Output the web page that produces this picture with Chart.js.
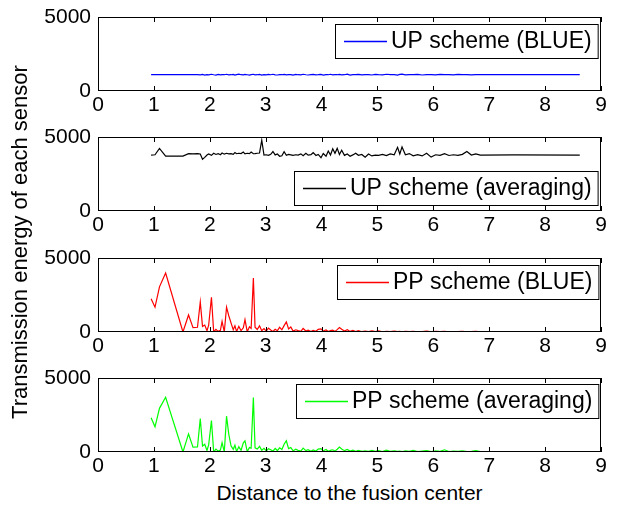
<!DOCTYPE html>
<html>
<head>
<meta charset="utf-8">
<script src="https://cdn.jsdelivr.net/npm/chart.js@4.4.1/dist/chart.umd.min.js"></script>
<style>
  html, body { margin: 0; padding: 0; background: #fff; }
  #wrap { position: relative; width: 630px; height: 506px; overflow: hidden; font-family: "Liberation Sans", Arial, sans-serif; color: #000; }
  .panel { position: absolute; left: 0; width: 630px; height: 110px; }
  #ytitle { position: absolute; left: -230px; top: 229px; width: 500px; height: 26px; line-height: 26px; text-align: center; font-size: 22px; transform: rotate(-90deg); }
  #xtitle { position: absolute; left: 98px; top: 480px; width: 503px; height: 26px; line-height: 26px; text-align: center; font-size: 21px; }
</style>
</head>
<body>
<div id="wrap">
  <div class="panel" style="top:7px"><canvas id="c1" width="630" height="110"></canvas></div>
  <div class="panel" style="top:127px"><canvas id="c2" width="630" height="110"></canvas></div>
  <div class="panel" style="top:248px"><canvas id="c3" width="630" height="110"></canvas></div>
  <div class="panel" style="top:368px"><canvas id="c4" width="630" height="110"></canvas></div>
  <div id="ytitle">Transmission energy of each sensor</div>
  <div id="xtitle">Distance to the fusion center</div>
</div>
<script>
// sensor distances to the fusion center
const distance = [
  0.95, 1.02, 1.10, 1.21, 1.52, 1.62, 1.70, 1.78, 1.83, 1.87,
  1.91, 1.95, 1.98, 2.03, 2.07, 2.11, 2.15, 2.19, 2.22, 2.26,
  2.30, 2.34, 2.38, 2.42, 2.45, 2.48, 2.52, 2.56, 2.60, 2.63,
  2.67, 2.71, 2.74, 2.78, 2.81, 2.85, 2.89, 2.93, 2.97, 3.01,
  3.05, 3.09, 3.13, 3.17, 3.21, 3.25, 3.29, 3.33, 3.37, 3.41,
  3.45, 3.49, 3.54, 3.58, 3.63, 3.67, 3.72, 3.76, 3.81, 3.85,
  3.90, 3.94, 3.99, 4.03, 4.08, 4.12, 4.16, 4.20, 4.24, 4.28,
  4.32, 4.36, 4.41, 4.46, 4.51, 4.56, 4.61, 4.66, 4.72, 4.78,
  4.84, 4.90, 4.96, 5.02, 5.09, 5.16, 5.23, 5.30, 5.36, 5.40,
  5.44, 5.50, 5.57, 5.64, 5.72, 5.80, 5.88, 5.96, 6.04, 6.12,
  6.20, 6.28, 6.36, 6.44, 6.52, 6.60, 6.68, 6.76, 6.84, 7.45,
  8.62
];

const upBlue = [
  1100, 1100, 1100, 1100, 1100, 1100, 1100, 1110, 1090, 1120,
  1080, 1110, 1090, 1130, 1100, 1080, 1120, 1090, 1110, 1100,
  1130, 1090, 1100, 1120, 1080, 1110, 1140, 1100, 1090, 1120,
  1100, 1080, 1110, 1130, 1090, 1100, 1120, 1080, 1110, 1090,
  1120, 1100, 1130, 1090, 1080, 1110, 1100, 1120, 1090, 1100,
  1110, 1080, 1120, 1100, 1090, 1130, 1100, 1080, 1110, 1120,
  1090, 1100, 1120, 1080, 1110, 1100, 1130, 1090, 1110, 1100,
  1120, 1090, 1100, 1140, 1080, 1110, 1100, 1120, 1090, 1100,
  1110, 1080, 1120, 1100, 1090, 1130, 1100, 1110, 1080, 1120,
  1140, 1090, 1110, 1100, 1120, 1080, 1100, 1110, 1090, 1120,
  1100, 1110, 1090, 1120, 1100, 1110, 1090, 1100, 1110, 1100,
  1100
];

const upAvg = [
  3780, 3800, 4230, 3710, 3710, 3870, 3860, 3870, 3850, 3500,
  3620, 3780, 3850, 3760, 3900, 3820, 3880, 3800, 3920, 3840,
  3900, 3860, 3880, 3830, 3950, 3870, 3900, 3880, 3980, 3860,
  3900, 3880, 3990, 3870, 3880, 3900, 3920, 4780, 3780, 3800,
  3760, 3830, 4020, 3790, 3850, 3700, 3730, 4010, 3760, 3820,
  3790, 3760, 3800, 3780, 3860, 3740, 3900, 3770, 3810, 3940,
  3750, 3820, 3600, 3880, 3700, 4050, 3780, 4200, 3900, 4230,
  3820, 4100, 3760, 3850, 3700, 3790, 3900, 3760, 3820, 3640,
  3850, 3720, 3780, 3760, 3820, 3740, 3860, 3800, 4300, 3850,
  4330, 3800, 3880, 3730, 3810, 3720, 3900, 3640, 3800, 3760,
  3870, 3750, 3800, 3760, 3830, 4020, 3780, 3860, 3780, 3790,
  3780
];

const ppBlue = [
  2240, 1680, 3050, 3980, 0, 1150, 290, 320, 2030, 380,
  470, 80, 460, 2350, 0, 180, 40, 110, 720, 0,
  1680, 1100, 620, 150, 420, 30, 380, 90, 280, 830,
  20, 350, 240, 3650, 320, 170, 420, 90, 230, 60,
  260, 130, 40, 180, 90, 320, 150, 430, 680, 200,
  340, 60, 150, 90, 40, 240, 70, 130, 30, 110,
  50, 180, 210, 60, 140, 30, 90, 120, 40, 160,
  300, 180, 70, 150, 40, 110, 30, 90, 20, 60,
  30, 80, 20, 70, 15, 50, 30, 60, 20, 40,
  10, 50, 20, 40, 10, 30, 60, 15, 40, 20,
  50, 10, 30, 20, 40, 10, 25, 50, 15, 10,
  10
];

const ppAvg = [
  2310, 1700, 2950, 3700, 0, 1220, 330, 340, 2260, 400,
  520, 100, 480, 2130, 0, 200, 60, 130, 630, 0,
  2420, 1200, 420, 180, 460, 40, 350, 120, 620, 760,
  30, 300, 260, 3680, 280, 200, 380, 110, 250, 80,
  220, 150, 60, 240, 100, 280, 170, 520, 760, 230,
  300, 80, 190, 110, 60, 260, 90, 150, 50, 140,
  70, 200, 230, 80, 170, 50, 110, 150, 60, 190,
  330, 200, 90, 170, 60, 130, 50, 110, 40, 80,
  50, 110, 40, 90, 30, 130, 50, 80, 40, 60,
  30, 70, 40, 110, 30, 60, 90, 30, 70, 40,
  150, 30, 60, 40, 80, 30, 50, 90, 30, 20,
  20
];

const xTicks = [0, 9];
const yTicks = [0, 5000];

const FAMILY = '"Liberation Sans", Arial, sans-serif';
const TICK_FONT = { family: FAMILY, size: 21 };
const LEGEND_SIZE = 23;

// box around the axes with inward ticks, matlab style
const frame = {
  id: 'frame',
  afterDatasetsDraw(chart) {
    const { ctx, chartArea: a, scales: { x } } = chart;
    ctx.save();
    ctx.strokeStyle = '#000';
    ctx.lineWidth = 1;
    ctx.strokeRect(a.left + 0.5, a.top + 0.5, a.width - 1, a.height - 1);
    ctx.beginPath();
    x.ticks.forEach(t => {
      const px = Math.round(x.getPixelForValue(t.value)) + 0.5;
      ctx.moveTo(px, a.bottom);
      ctx.lineTo(px, a.bottom - 5);
      ctx.moveTo(px, a.top);
      ctx.lineTo(px, a.top + 5);
    });
    ctx.stroke();
    ctx.restore();
  }
};

// legend box drawn inside the axes
const boxLegend = {
  id: 'boxLegend',
  afterDraw(chart, args, opts) {
    const { ctx, chartArea: a } = chart;
    const ds = chart.data.datasets[0];
    ctx.save();
    ctx.font = LEGEND_SIZE + 'px ' + FAMILY;
    const tw = ctx.measureText(ds.label).width;
    const w = 9 + 43 + 4 + tw + 6;
    const h = 34;
    const left = Math.round(a.right - 3 - w);
    const top = opts.bottom ? Math.round(a.bottom - opts.gap - h) : Math.round(a.top + opts.gap);
    ctx.fillStyle = '#fff';
    ctx.fillRect(left, top, w, h);
    ctx.strokeStyle = '#000';
    ctx.lineWidth = 1;
    ctx.strokeRect(left + 0.5, top + 0.5, w, h);
    const my = top + h / 2;
    ctx.strokeStyle = ds.borderColor;
    ctx.lineWidth = 1.3;
    ctx.beginPath();
    ctx.moveTo(left + 9, Math.round(my) + 0.5);
    ctx.lineTo(left + 52, Math.round(my) + 0.5);
    ctx.stroke();
    ctx.fillStyle = '#000';
    ctx.textBaseline = 'middle';
    ctx.fillText(ds.label, left + 56, my + 1);
    ctx.restore();
  }
};

function makePanel(id, label, values, color, legendOpts) {
  return new Chart(document.getElementById(id).getContext('2d'), {
    type: 'line',
    data: {
      datasets: [{
        label: label,
        data: distance.map((d, i) => ({ x: d, y: values[i] })),
        borderColor: color,
        borderWidth: 1.2,
        pointRadius: 0,
        tension: 0
      }]
    },
    options: {
      responsive: false,
      animation: false,
      layout: { padding: { top: 10, right: 29, left: 0, bottom: 0 } },
      plugins: {
        legend: { display: false },
        tooltip: { enabled: false },
        boxLegend: legendOpts
      },
      scales: {
        x: {
          type: 'linear',
          min: xTicks[0], max: xTicks[1],
          ticks: { stepSize: 1, color: '#000', font: TICK_FONT, padding: 2, maxRotation: 0 },
          grid: { display: false, drawTicks: false },
          border: { display: false },
          afterFit(s) { s.height = 26; s.paddingLeft = 0; s.paddingRight = 0; }
        },
        y: {
          min: yTicks[0], max: yTicks[1],
          ticks: { stepSize: yTicks[1], color: '#000', font: TICK_FONT, padding: 7, callback: v => String(v) },
          grid: { display: false, drawTicks: false },
          border: { display: false },
          afterFit(s) { s.width = 98; s.paddingTop = 0; s.paddingBottom = 0; }
        }
      }
    },
    plugins: [frame, boxLegend]
  });
}

makePanel('c1', 'UP scheme (BLUE)', upBlue, '#0000ff', { gap: 7 });
makePanel('c2', 'UP scheme (averaging)', upAvg, '#000000', { gap: 6, bottom: true });
makePanel('c3', 'PP scheme (BLUE)', ppBlue, '#ff0000', { gap: 7 });
makePanel('c4', 'PP scheme (averaging)', ppAvg, '#00ff00', { gap: 6 });
</script>
</body>
</html>
